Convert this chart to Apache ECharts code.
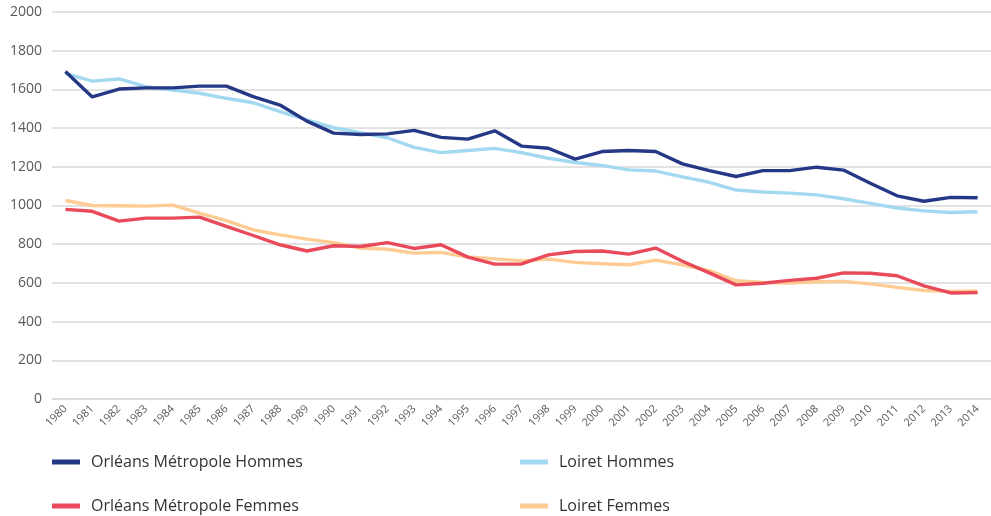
<!DOCTYPE html>
<html><head><meta charset="utf-8">
<script src="https://cdn.jsdelivr.net/npm/echarts@6/dist/echarts.min.js"></script>
<style>html,body{margin:0;padding:0;background:#fff}#c{width:991px;height:516px}</style>
</head><body><div id="c"></div>
<script>
const years = ['1980','1981','1982','1983','1984','1985','1986','1987','1988','1989','1990','1991','1992','1993','1994','1995','1996','1997','1998','1999','2000','2001','2002','2003','2004','2005','2006','2007','2008','2009','2010','2011','2012','2013','2014'];
const orleansHommes = [1692,1561,1602,1608,1608,1617,1617,1563,1519,1436,1374,1367,1370,1388,1352,1343,1386,1307,1296,1240,1279,1284,1279,1215,1180,1150,1180,1180,1198,1183,1115,1050,1022,1042,1040];
const loiretHommes = [1683,1643,1654,1614,1597,1580,1554,1531,1485,1442,1402,1376,1350,1300,1273,1284,1295,1273,1244,1222,1207,1184,1178,1148,1120,1080,1070,1064,1055,1035,1011,987,972,964,968];
const orleansFemmes = [980,970,919,935,935,940,892,845,797,765,792,788,808,778,797,733,697,698,745,762,765,749,780,712,652,590,598,613,624,652,650,637,585,548,550];
const loiretFemmes = [1026,1000,999,997,1002,961,922,874,848,826,808,780,774,754,758,734,724,714,723,706,699,694,718,693,663,611,602,599,606,608,595,577,561,556,558];
const tickLabels = ['0','200','400','600','800','1000','1200','1400','1600','1800','2000'];

const names = ['Orléans Métropole Hommes','Loiret Hommes','Orléans Métropole Femmes','Loiret Femmes'];
const colors = ['#253886','#a3d9f0','#e84a5a','#fecb92'];
const datasets = [orleansHommes, loiretHommes, orleansFemmes, loiretFemmes];
const FONT = '"Open Sans", sans-serif';

const legendPos = [[52,454],[520,454],[52,498],[520,498]];
const chart = echarts.init(document.getElementById('c'), null, {renderer:'canvas'});
chart.setOption({
  animation:false,
  color: colors,
  grid:{left:52, width:942, top:12, bottom:117},
  legend: names.map((n,i)=>({
    data:[n], left:legendPos[i][0], top:legendPos[i][1], padding:0,
    icon:'rect', itemWidth:28, itemHeight:5, itemGap:0,
    textStyle:{fontFamily:FONT, fontSize:16, color:'#333', padding:[0,0,0,6]}
  })),
  xAxis:{
    type:'category', data:years, boundaryGap:true,
    axisLine:{show:true, lineStyle:{color:'#d9d9d9', width:1.5}},
    axisTick:{show:false},
    axisLabel:{rotate:45, interval:0, margin:8, fontFamily:FONT, fontSize:11, color:'#595959'}
  },
  yAxis:{
    type:'value', min:0, max:2000, interval:200,
    axisLine:{show:false}, axisTick:{show:false},
    splitLine:{lineStyle:{color:'#d9d9d9', width:1.5}},
    axisLabel:{margin:10, fontFamily:FONT, fontSize:14, color:'#595959',
      formatter:(v)=>tickLabels[Math.round(v/200)]}
  },
  series: names.map((n,i)=>({
    name:n, type:'line', data:datasets[i], showSymbol:false, symbol:'none',
    lineStyle:{width:3.4, color:colors[i]}, itemStyle:{color:colors[i]},
    z: [4,3,2,1][i]
  }))
});
</script></body></html>
